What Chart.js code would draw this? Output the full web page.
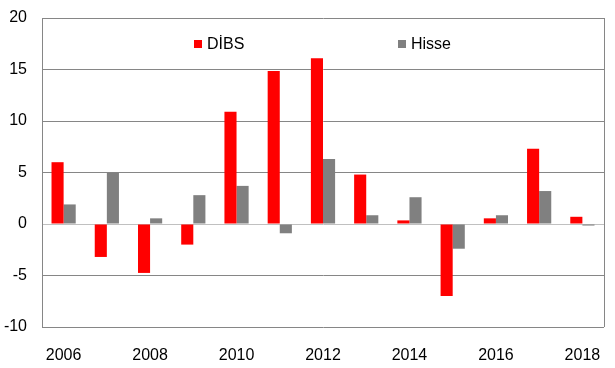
<!DOCTYPE html>
<html>
<head>
<meta charset="utf-8">
<script src="https://cdn.jsdelivr.net/npm/chart.js@4/dist/chart.umd.min.js"></script>
<style>
  body { margin: 0; background: #fff; }
</style>
</head>
<body>
<canvas id="myChart" width="615" height="368"></canvas>
<script>
const years = ['2006', '2007', '2008', '2009', '2010', '2011', '2012',
    '2013', '2014', '2015', '2016', '2017', '2018'];

const dibs = [6.0, -3.2, -4.75, -2.0, 10.9, 14.85, 16.1, 4.8, 0.35, -7.0, 0.55, 7.3, 0.7];
const hisse = [1.9, 5.0, 0.55, 2.8, 3.7, -0.9, 6.3, 0.85, 2.6, -2.4, 0.85, 3.2, -0.15];

const yTicks = [-10, -5, 0, 5, 10, 15, 20];

const fontFamily = '"Liberation Sans", Arial, sans-serif';

// legend drawn inside the plot area, like the original
const insideLegend = {
    id: 'insideLegend',
    afterDraw(chart, args, opts) {
        const ctx = chart.ctx;
        ctx.save();
        ctx.font = '16px ' + fontFamily;
        ctx.textBaseline = 'middle';
        chart.data.datasets.forEach((ds, i) => {
            const x = opts.xs[i];
            const y = opts.y;
            ctx.fillStyle = ds.backgroundColor;
            ctx.fillRect(x, y - 4, 8, 8);
            ctx.fillStyle = '#000';
            ctx.fillText(ds.label, x + 13, y + 1);
        });
        // right border of the plot
        const a = chart.chartArea;
        ctx.strokeStyle = '#868686';
        ctx.lineWidth = 1;
        ctx.beginPath();
        ctx.moveTo(Math.round(a.right) + 0.5, a.top);
        ctx.lineTo(Math.round(a.right) + 0.5, a.bottom);
        ctx.stroke();
        ctx.restore();
    }
};

const config = {
    type: 'bar',
    data: {
        labels: years,
        datasets: [
            { label: 'DİBS', data: dibs, backgroundColor: '#ff0000' },
            { label: 'Hisse', data: hisse, backgroundColor: '#808080' }
        ]
    },
    options: {
        responsive: false,
        animation: false,
        datasets: {
            bar: { categoryPercentage: 0.56, barPercentage: 1.0 }
        },
        layout: { padding: { left: 0, right: 11, top: 18, bottom: 0 } },
        plugins: {
            legend: { display: false },
            tooltip: { enabled: false },
            insideLegend: { xs: [194, 398], y: 44 }
        },
        scales: {
            x: {
                grid: { display: false },
                border: { display: false },
                ticks: {
                    color: '#000',
                    font: { family: fontFamily, size: 16 },
                    padding: 11,
                    autoSkip: false,
                    maxRotation: 0,
                    callback: function (v, i) {
                        return i % 2 === 0 ? years[i] : '';
                    }
                },
                afterFit: function (scale) {
                    scale.height = 41;
                    scale.paddingLeft = 0;
                    scale.paddingRight = 0;
                }
            },
            y: {
                min: -10,
                max: 20,
                afterBuildTicks: function (scale) {
                    scale.ticks = yTicks.map(v => ({ value: v }));
                },
                grid: {
                    drawTicks: false,
                    color: function (c) {
                        return c.tick && c.tick.value === 0 ? '#c0c0c0' : '#868686';
                    },
                    lineWidth: 1
                },
                border: { display: true, color: '#868686' },
                ticks: {
                    color: '#000',
                    font: { family: fontFamily, size: 16 },
                    padding: 15
                },
                afterFit: function (scale) {
                    scale.width = 42;
                    scale.paddingTop = 0;
                    scale.paddingBottom = 0;
                }
            }
        }
    },
    plugins: [insideLegend]
};

const myChart = new Chart(
document.getElementById('myChart').getContext('2d'),
config
);
</script>
</body>
</html>
